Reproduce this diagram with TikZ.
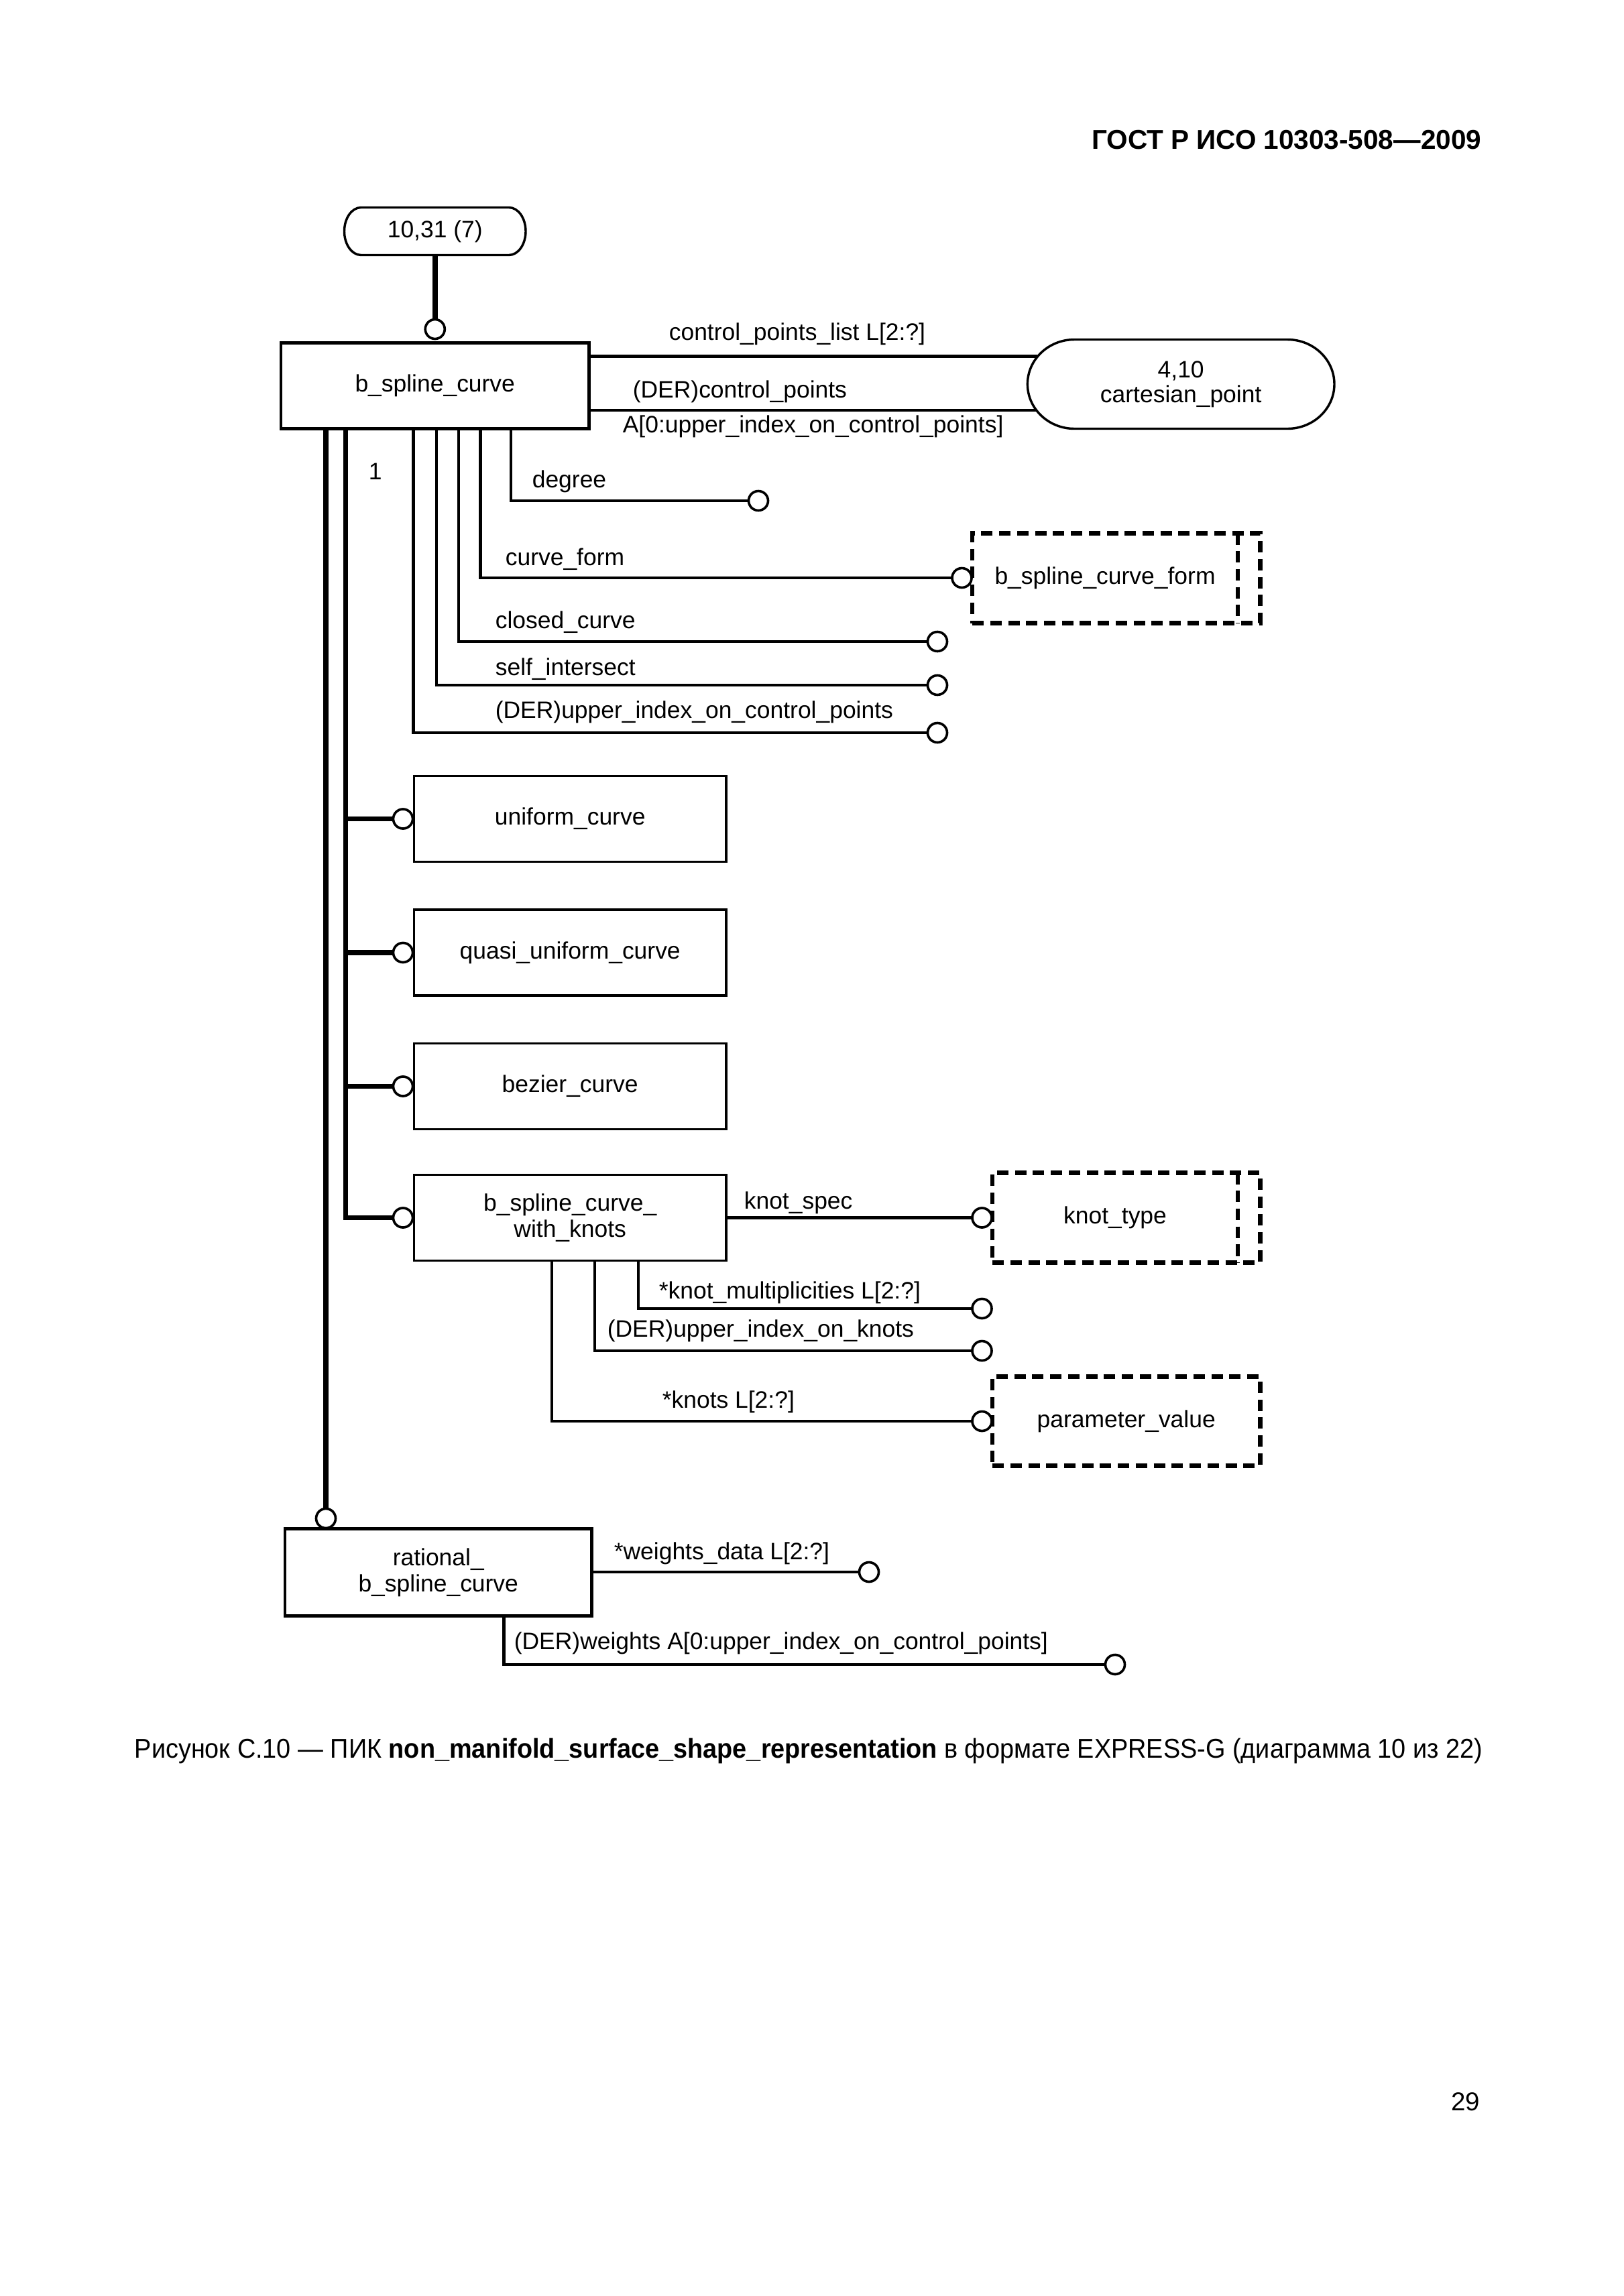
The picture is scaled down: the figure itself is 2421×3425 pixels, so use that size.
\documentclass[tikz,border=0pt]{standalone}
\usepackage{fontspec}
\setmainfont{Liberation Sans}
\usetikzlibrary{calc}
\newcommand{\dfont}{\fontsize{8.75}{9.6}\selectfont}
\newcommand{\pxu}{0.08674mm}
\begin{document}
\begin{tikzpicture}[x=0.08674mm, y=-0.08674mm,
  box/.style={draw, line width=0.9pt, rectangle, inner sep=0pt, outer sep=0pt, font=\dfont, align=center},
  dbox/.style={draw, line width=1.5pt, dash pattern=on 4.2pt off 2.4pt, rectangle, inner sep=0pt, outer sep=0pt, font=\dfont, align=center},
  dline/.style={line width=1.5pt, dash pattern=on 4.2pt off 2.4pt},
  circ/.style={draw, circle, line width=0.9pt, minimum size=29*\pxu, inner sep=0pt, outer sep=0pt, fill=white},
  attr/.style={line width=1.05pt},
  thk/.style={line width=1.9pt},
  outl/.style={line width=0.85pt},
  lbl/.style={anchor=base west, inner sep=0pt, font=\dfont},
]
\fill[white] (0,0) rectangle (2421,3425);
\useasboundingbox (0,0) rectangle (2421,3425);

% header
\node[lbl, anchor=base east, font=\fontsize{10}{12}\selectfont\bfseries] (hdr) at (2210,222) {ГОСТ Р ИСО 10303-508—2009};

% boxes
\node[inner sep=0pt, outer sep=0pt, minimum width=270.5*\pxu, minimum height=71*\pxu, font=\dfont] (ref) at (648.75,345) {10,31 (7)};
\draw[outl] (538.5,309.5) -- (759,309.5) arc[start angle=90, end angle=-90, x radius=25*\pxu, y radius=35.5*\pxu]
  -- (538.5,380.5) arc[start angle=270, end angle=90, x radius=25*\pxu, y radius=35.5*\pxu] -- cycle;

\node[box, line width=1.2pt, minimum width=459.5*\pxu, minimum height=128*\pxu] (bsc) at (648.75,575.5) {b\_spline\_curve};

\node[inner sep=0pt, outer sep=0pt, minimum width=457.6*\pxu, minimum height=133*\pxu, font=\fontsize{8.75}{9.1}\selectfont, align=center] (cart) at (1761.2,573) {4,10\\cartesian\_point};
\draw[outl] (1602.4,506.5) -- (1920,506.5) arc[start angle=90, end angle=-90, x radius=70*\pxu, y radius=66.5*\pxu]
  -- (1602.4,639.5) arc[start angle=270, end angle=90, x radius=70*\pxu, y radius=66.5*\pxu] -- cycle;

\node[dbox, minimum width=429.5*\pxu, minimum height=134*\pxu] (bscf) at (1664.75,862.5) {b\_spline\_curve\_form\hspace*{2.9mm}};
\draw[dline] ($(bscf.north east)+(-33.5,0)$) -- ($(bscf.south east)+(-33.5,0)$);

\node[box, line width=0.85pt, minimum width=465.7*\pxu, minimum height=128*\pxu] (unif) at (850.2,1221.5) {uniform\_curve};
\node[box, line width=0.85pt, minimum width=465.7*\pxu, minimum height=128*\pxu] (quasi) at (850.2,1421) {quasi\_uniform\_curve};
\node[box, line width=0.85pt, minimum width=465.7*\pxu, minimum height=128*\pxu] (bez) at (850.2,1620.5) {bezier\_curve};
\node[box, line width=0.85pt, minimum width=465.7*\pxu, minimum height=128*\pxu] (bwk) at (850.2,1816.5) {b\_spline\_curve\_\\with\_knots};

\node[dbox, minimum width=399.5*\pxu, minimum height=134*\pxu] (kt) at (1679.75,1816.5) {knot\_type\hspace*{2.9mm}};
\draw[dline] ($(kt.north east)+(-33.5,0)$) -- ($(kt.south east)+(-33.5,0)$);
\node[dbox, minimum width=399.5*\pxu, minimum height=133*\pxu] (pv) at (1679.75,2120) {parameter\_value};

\node[box, line width=1.05pt, minimum width=457.5*\pxu, minimum height=130*\pxu] (rbsc) at (653.75,2345.5) {rational\_\\b\_spline\_curve};

% coordinates
\coordinate (cp1) at (1547,531.5);
\coordinate (cp2) at (1546,612);
\coordinate (tree) at ($(bsc.south west)+(96.5,0)$);
\coordinate (rtree) at ($(bsc.south west)+(67,0)$);

% connectors
\draw[attr] (bsc.east |- cp1) -- (cp1);
\draw[attr] (bsc.east |- cp2) -- (cp2);

\node[circ] (c0) at (648.75,491) {};
\node[circ] (cdeg) at (1131,747) {};
\node[circ] (ccf) at (1434.5,862) {};
\node[circ] (ccc) at (1398,957) {};
\node[circ] (csi) at (1398,1022) {};
\node[circ] (cui) at (1398,1093) {};
\node[circ] (cu) at (601,1221.5) {};
\node[circ] (cq) at (601,1421) {};
\node[circ] (cb) at (601,1620.5) {};
\node[circ] (ck) at (601,1816.5) {};
\node[circ] (cks) at (1464.5,1816.5) {};
\node[circ] (ckm) at (1464.5,1952) {};
\node[circ] (cuk) at (1464.5,2015) {};
\node[circ] (ckn) at (1464.5,2120) {};
\node[circ] (cr) at (486,2265) {};
\node[circ] (cwd) at (1296,2345) {};
\node[circ] (cw) at (1663,2483) {};

\draw[thk] (ref.south) -- (c0.north);
\draw[attr] ($(bsc.south west)+(343,0)$) |- (cdeg.west);
\draw[attr] ($(bsc.south west)+(297.5,0)$) |- (ccf.west);
\draw[attr] ($(bsc.south west)+(265,0)$) |- (ccc.west);
\draw[attr] ($(bsc.south west)+(232,0)$) |- (csi.west);
\draw[attr] ($(bsc.south west)+(197.5,0)$) |- (cui.west);

\draw[thk] (rtree) -- (cr.north);
\draw[thk] (tree) |- (ck.west);
\draw[thk] (tree |- cu) -- (cu.west);
\draw[thk] (tree |- cq) -- (cq.west);
\draw[thk] (tree |- cb) -- (cb.west);

\draw[attr] (bwk.east) -- (cks.west);
\draw[attr] ($(bwk.south west)+(335,0)$) |- (ckm.west);
\draw[attr] ($(bwk.south west)+(270,0)$) |- (cuk.west);
\draw[attr] ($(bwk.south west)+(206,0)$) |- (ckn.west);

\draw[attr] (rbsc.east |- cwd) -- (cwd.west);
\draw[attr] ($(rbsc.south west)+(326.5,0)$) |- (cw.west);

% labels
\node[lbl] (l1) at (997,507.7) {control\_points\_list L[2:?]};
\node[lbl] (l2) at (943,593) {(DER)control\_points};
\node[lbl] (l3) at (928,645) {A[0:upper\_index\_on\_control\_points]};
\node[lbl] (l4) at (549,715) {1};
\node[lbl] (l5) at (793,727) {degree};
\node[lbl] (l6) at (753,843) {curve\_form};
\node[lbl] (l7) at (738,937) {closed\_curve};
\node[lbl] (l8) at (738,1007) {self\_intersect};
\node[lbl] (l9) at (738,1071) {(DER)upper\_index\_on\_control\_points};
\node[lbl] (l10) at (1109,1803.6) {knot\_spec};
\node[lbl] (l11) at (982,1937.5) {*knot\_multiplicities L[2:?]};
\node[lbl] (l12) at (905,1994.6) {(DER)upper\_index\_on\_knots};
\node[lbl] (l13) at (987,2100) {*knots L[2:?]};
\node[lbl] (l14) at (915,2326) {*weights\_data L[2:?]};
\node[lbl] (l15) at (766,2460) {(DER)weights A[0:upper\_index\_on\_control\_points]};

% caption and page number
\node[lbl, font=\fontsize{10}{12}\selectfont] (cap) at (200,2622) {\scalebox{0.934}[1]{Рисунок С.10 — ПИК \textbf{non\_manifold\_surface\_shape\_representation} в формате EXPRESS-G (диаграмма 10 из 22)}};
\node[lbl, anchor=base east, font=\fontsize{9.5}{11}\selectfont] (pg) at (2208,3148) {29};
\end{tikzpicture}
\end{document}
